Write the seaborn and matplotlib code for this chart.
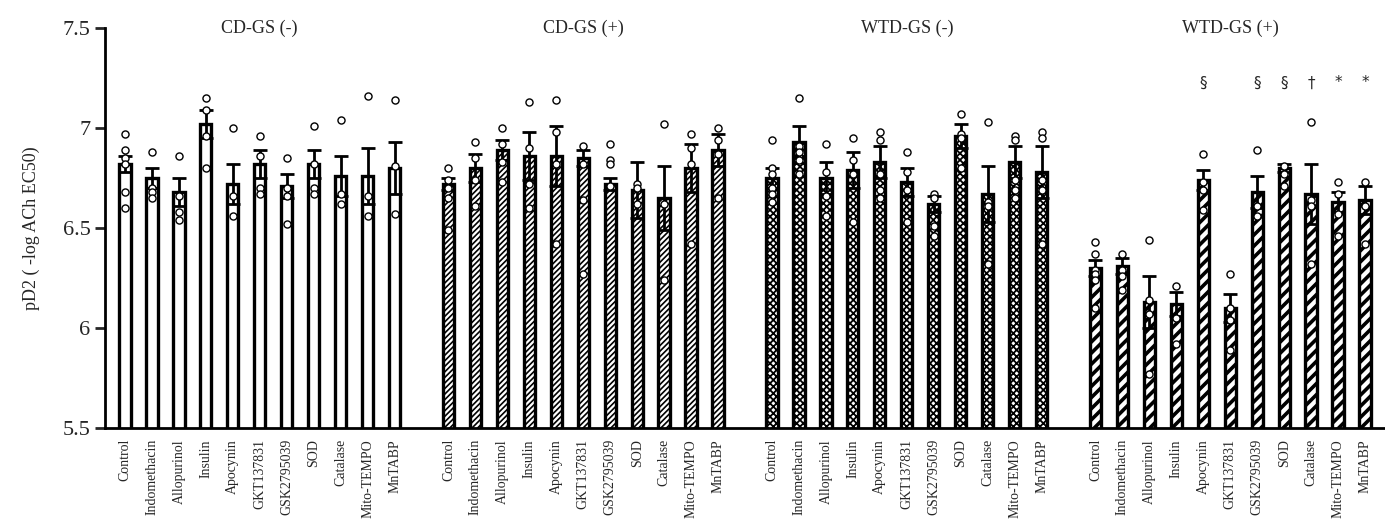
import numpy as np
import pandas as pd
import matplotlib
matplotlib.use('Agg')
import matplotlib.pyplot as plt
import seaborn as sns

# treatments and groups
treatments = ['Control', 'Indomethacin', 'Allopurinol', 'Insulin', 'Apocynin', 'GKT137831',
              'GSK2795039', 'SOD', 'Catalase', 'Mito-TEMPO', 'MnTABP']
groups = ['CD-GS (-)', 'CD-GS (+)', 'WTD-GS (-)', 'WTD-GS (+)']

# bar means (pD2)
mean_cd_neg = [6.82, 6.75, 6.68, 7.02, 6.72, 6.82, 6.71, 6.82, 6.76, 6.76, 6.80]
mean_cd_pos = [6.72, 6.80, 6.89, 6.86, 6.86, 6.85, 6.72, 6.69, 6.65, 6.80, 6.89]
mean_wtd_neg = [6.75, 6.93, 6.75, 6.79, 6.83, 6.73, 6.62, 6.96, 6.67, 6.83, 6.78]
mean_wtd_pos = [6.30, 6.31, 6.13, 6.12, 6.74, 6.10, 6.68, 6.80, 6.67, 6.63, 6.64]

# SEM
sem_cd_neg = [0.04, 0.05, 0.07, 0.07, 0.10, 0.07, 0.06, 0.07, 0.10, 0.14, 0.13]
sem_cd_pos = [0.03, 0.07, 0.05, 0.12, 0.15, 0.04, 0.03, 0.14, 0.16, 0.12, 0.08]
sem_wtd_neg = [0.05, 0.08, 0.08, 0.09, 0.08, 0.07, 0.04, 0.06, 0.14, 0.08, 0.13]
sem_wtd_pos = [0.04, 0.04, 0.13, 0.06, 0.05, 0.07, 0.08, 0.02, 0.15, 0.05, 0.07]

# individual animals
pts_cd_neg = [[6.97, 6.89, 6.85, 6.82, 6.68, 6.60], [6.88, 6.70, 6.68, 6.65],
              [6.86, 6.66, 6.58, 6.54], [7.15, 7.09, 6.96, 6.80], [7.00, 6.66, 6.56],
              [6.96, 6.86, 6.70, 6.67], [6.85, 6.70, 6.66, 6.52], [7.01, 6.82, 6.70, 6.67],
              [7.04, 6.67, 6.62], [7.16, 6.66, 6.56], [7.14, 6.81, 6.57]]
pts_cd_pos = [[6.80, 6.74, 6.70, 6.65, 6.49], [6.93, 6.85, 6.74, 6.61],
              [7.00, 6.92, 6.83, 6.73], [7.13, 6.90, 6.72, 6.60], [7.14, 6.98, 6.82, 6.42],
              [6.91, 6.82, 6.64, 6.27], [6.92, 6.84, 6.82, 6.71], [6.72, 6.70, 6.62],
              [7.02, 6.62, 6.24], [6.97, 6.90, 6.82, 6.42], [7.00, 6.94, 6.87, 6.65]]
pts_wtd_neg = [[6.94, 6.80, 6.77, 6.70, 6.67, 6.63], [7.15, 6.91, 6.88, 6.84, 6.77],
               [6.92, 6.78, 6.66, 6.56], [6.95, 6.84, 6.77, 6.53], [6.98, 6.94, 6.77, 6.69, 6.65],
               [6.88, 6.78, 6.69, 6.53], [6.67, 6.65, 6.51, 6.46], [7.07, 6.97, 6.95, 6.80],
               [7.03, 6.63, 6.61, 6.32], [6.96, 6.94, 6.74, 6.69, 6.65], [6.98, 6.95, 6.74, 6.69, 6.42]]
pts_wtd_pos = [[6.43, 6.37, 6.29, 6.27, 6.24, 6.10], [6.37, 6.29, 6.26, 6.19],
               [6.44, 6.14, 6.07, 5.77], [6.21, 6.05, 5.92], [6.87, 6.73, 6.69, 6.59],
               [6.27, 6.10, 6.04, 5.89], [6.89, 6.61, 6.56], [6.81, 6.77, 6.71],
               [7.03, 6.64, 6.61, 6.32], [6.73, 6.67, 6.57, 6.46], [6.73, 6.61, 6.42]]

# significance marks over WTD-GS (+)
sig_treatments = ['Apocynin', 'GSK2795039', 'SOD', 'Catalase', 'Mito-TEMPO', 'MnTABP']
sig_marks = ['§', '§', '§', '†', '*', '*']

means = [mean_cd_neg, mean_cd_pos, mean_wtd_neg, mean_wtd_pos]
sems = [sem_cd_neg, sem_cd_pos, sem_wtd_neg, sem_wtd_pos]
points = [pts_cd_neg, pts_cd_pos, pts_wtd_neg, pts_wtd_pos]
hatches = ['', '//////', 'xxxxx', '///']
hatch_lw = [1.0, 1.2, 1.3, 2.6]

n = len(treatments)
bar_rows, pt_rows = [], []
for g, grp in enumerate(groups):
    for i, t in enumerate(treatments):
        pos = g * (n + 1) + i
        bar_rows.append({'group': grp, 'treatment': t, 'pos': pos,
                         'mean': means[g][i], 'sem': sems[g][i]})
        for v in points[g][i]:
            pt_rows.append({'group': grp, 'pos': pos, 'value': v})
bars = pd.DataFrame(bar_rows)
pts = pd.DataFrame(pt_rows)

sns.set_style('ticks')
plt.rcParams['font.family'] = ['Liberation Serif', 'DejaVu Serif']
plt.rcParams['hatch.linewidth'] = 1.3

fig = plt.figure(figsize=(13.85, 5.29), dpi=100)
ax = fig.add_axes([105 / 1385, 1 - 428 / 529, 1280 / 1385, 400 / 529])

for g, grp in enumerate(groups):
    sub = bars[bars['group'] == grp]
    n_before = len(ax.patches)
    sns.barplot(data=sub, x='pos', y='mean', native_scale=True, width=0.42,
                color='white', edgecolor='black', linewidth=2.4, hatch=hatches[g],
                errorbar=None, ax=ax, zorder=2)
    for p in ax.patches[n_before:]:
        if hasattr(p, 'set_hatch_linewidth'):
            p.set_hatch_linewidth(hatch_lw[g])

ax.errorbar(bars['pos'], bars['mean'], yerr=bars['sem'], fmt='none', ecolor='black',
            elinewidth=2, capsize=5, capthick=2, zorder=3)

sns.scatterplot(data=pts, x='pos', y='value', marker='o', s=26, facecolor='white',
                edgecolor='black', linewidth=1, ax=ax, zorder=4, legend=False)

# group titles
for g, grp in enumerate(groups):
    ax.text(g * (n + 1) + (n - 1) / 2, 7.5, grp, ha='center', va='center', fontsize=13)

# significance marks
for t, m in zip(sig_treatments, sig_marks):
    pos = 3 * (n + 1) + treatments.index(t)
    ax.text(pos, 7.225, m, ha='center', va='center', fontsize=11,
            family=['DejaVu Sans'])

ax.set_xlim(-0.74, 3 * (n + 1) + n - 1 + 0.74)
ax.set_ylim(5.5, 7.5)
ax.set_yticks([5.5, 6, 6.5, 7, 7.5])
ax.set_yticklabels(['5.5', '6', '6.5', '7', '7.5'], fontsize=16)
ax.set_xticks(bars['pos'])
ax.set_xticklabels(bars['treatment'], rotation=90, fontsize=10)
ax.tick_params(axis='x', length=0, pad=8)
ax.tick_params(axis='y', length=7, width=2, direction='out')
ax.set_xlabel('')
ax.set_ylabel('pD2 ( -log ACh EC50)', fontsize=13, labelpad=16)
sns.despine(ax=ax)
for side in ['left', 'bottom']:
    ax.spines[side].set_linewidth(2)
    ax.spines[side].set_color('black')

plt.savefig('out.png', dpi=100)
